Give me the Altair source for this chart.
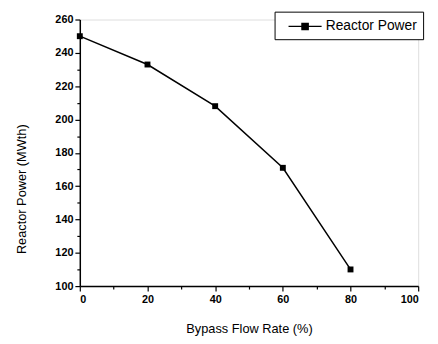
import altair as alt
import pandas as pd

bypass = [0, 20, 40, 60, 80]
power = [250, 233, 208, 171, 110]
series = ["Reactor Power"] * 5

df = pd.DataFrame({"Bypass": bypass, "Power": power, "Series": series})

FONT = "Liberation Sans"

x_axis = alt.Axis(
    values=list(range(0, 101, 10)),
    labelExpr="datum.value % 20 === 0 ? datum.label : ''",
    tickSize={"condition": {"test": "datum.value % 20 === 0", "value": 5}, "value": 3},
    labelOverlap=False,
    grid=False,
    domainColor="black", domainWidth=1.5,
    tickColor="black", tickWidth=1.2,
    labelColor="black", labelFont=FONT, labelFontSize=11, labelFontWeight="bold",
    labelPadding=3,
    title="Bypass Flow Rate (%)", titleFont=FONT, titleFontSize=13, titleFontWeight="normal",
    titleColor="black", titlePadding=18,
)
y_axis = alt.Axis(
    values=list(range(100, 261, 10)),
    labelExpr="datum.value % 20 === 0 ? datum.label : ''",
    tickSize={"condition": {"test": "datum.value % 20 === 0", "value": 5}, "value": 3},
    labelOverlap=False,
    grid=False,
    domainColor="black", domainWidth=1.5,
    tickColor="black", tickWidth=1.2,
    labelColor="black", labelFont=FONT, labelFontSize=11, labelFontWeight="bold",
    labelPadding=2,
    title="Reactor Power (MWth)", titleFont=FONT, titleFontSize=13, titleFontWeight="normal",
    titleColor="black", titlePadding=27, titleY=172,
)

legend_symbol = "M-2.1,0L2.1,0M-0.4,-0.4L0.4,-0.4L0.4,0.4L-0.4,0.4Z"

base = alt.Chart(df).encode(
    x=alt.X("Bypass:Q", scale=alt.Scale(domain=[0, 100], nice=False), axis=x_axis),
    y=alt.Y("Power:Q", scale=alt.Scale(domain=[100, 260], nice=False), axis=y_axis),
)

line = base.mark_line(color="black", strokeWidth=1.5).encode(
    color=alt.Color(
        "Series:N",
        scale=alt.Scale(range=["black"]),
        legend=alt.Legend(
            title=None,
            orient="none", legendX=198, legendY=-8,
            symbolType=legend_symbol, symbolSize=256,
            symbolOffset=16,
            symbolStrokeWidth=1.3, symbolStrokeColor="black", symbolFillColor="black",
            labelFont=FONT, labelFontSize=14, labelColor="black",
            strokeColor="black", padding=6, labelOffset=12,
            fillColor="white",
        ),
    )
)
points = base.mark_square(color="black", size=36, opacity=1, filled=True)

chart = (
    (line + points)
    .properties(
        width=344, height=271,
        autosize=alt.AutoSizeParams(type="none"),
        padding={"left": 73, "top": 9, "right": 12, "bottom": 48},
    )
    .configure_view(stroke=None)
    .configure(background="white")
)

chart.save("out.html", embed_options={"renderer": "svg", "actions": False})
